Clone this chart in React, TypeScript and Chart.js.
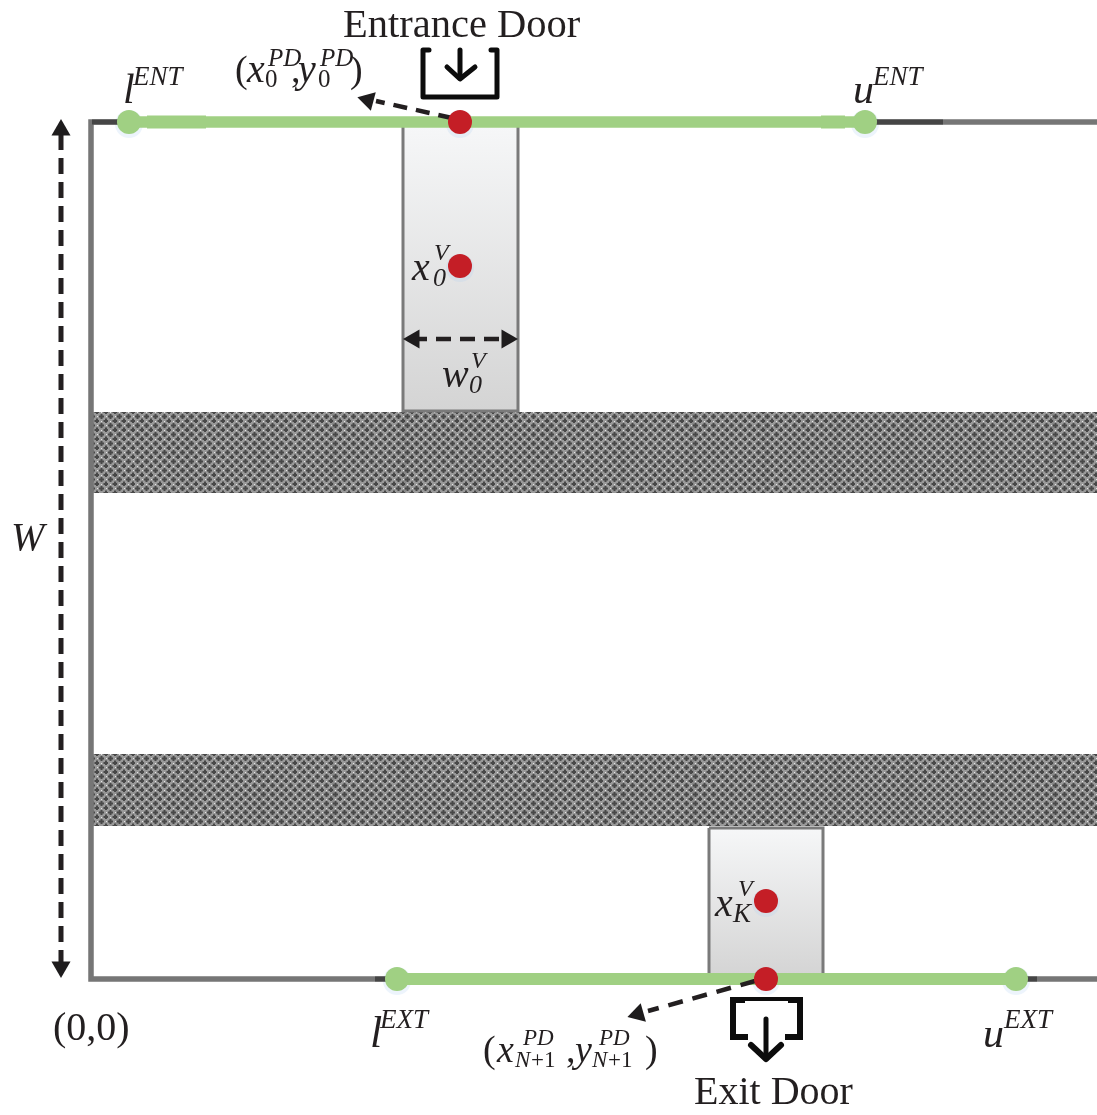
import React, { useEffect, useRef } from "react";
import Chart from "chart.js/auto";

type P = { x: number; y: number };
const pts = (a: number[][]): P[] => a.map(([x, y]) => ({ x, y }));

const WIDTH = 1097;
const HEIGHT = 1115;

// Room frame
const frameOutline = [[1097, 122], [91, 122], [91, 979], [1097, 979]];
const darkTopA = [[92, 122], [129, 122]];
const darkTopB = [[865, 122], [943, 122]];
const darkBottomA = [[375, 979], [397, 979]];
const darkBottomB = [[1016, 979], [1037, 979]];

// Door ranges (green)
const entranceRange = [[129, 122], [865, 122]];
const exitRange = [[397, 979], [1016, 979]];
const entranceThickA = [[147, 122], [206, 122]];
const entranceThickB = [[821, 122], [845, 122]];

// Vehicles
const vehicleTop = [[403, 125], [518, 125], [518, 411], [403, 411], [403, 125]];
const vehicleBottom = [[709, 828], [823, 828], [823, 977], [709, 977], [709, 828]];

// Obstacle bands
const bandUpper = [[93, 412], [1097, 412], [1097, 493], [93, 493], [93, 412]];
const bandLower = [[93, 754], [1097, 754], [1097, 826], [93, 826], [93, 754]];
const seamColumns = [117, 189, 261, 333, 405, 477, 549, 621, 693, 765, 837, 909, 981, 1053];
const seamRows = [428, 793];
const bandSpans = [[412, 493], [754, 826]];

// Points
const greenPoints = [[129, 122], [865, 122], [397, 979], [1016, 979]];
const redPoints = [[460, 122], [460, 266], [766, 901], [766, 979]];
const glowPoints = [[129, 124], [865, 124], [397, 981], [1016, 981], [460, 124], [460, 268], [766, 903], [766, 981]];

// Dashed arrows
const arrowEntrance = [[452, 118], [376, 101]];
const arrowExit = [[755, 981], [648, 1011]];
const arrowWidth = [[412, 339], [510, 339]];
const arrowW = [[61, 134], [61, 964]];
const arrowHeads = [
  { p: [368, 100], rot: 285 },
  { p: [638, 1014], rot: 254 },
  { p: [414, 339], rot: 270 },
  { p: [507, 339], rot: 90 },
  { p: [61, 130], rot: 0 },
  { p: [61, 967], rot: 180 },
];

// Door icons
const entranceBracket = [[429, 50], [423, 50], [423, 97], [497, 97], [497, 50], [491, 50]];
const entranceStem = [[460, 50], [460, 78]];
const entranceChevron = [[447, 67], [460, 79], [475, 67]];
const exitBracketLeft = [[745, 1000], [733, 1000], [733, 1037], [748, 1037]];
const exitBracketRight = [[788, 1000], [800, 1000], [800, 1037], [785, 1037]];
const exitLintel = [[745, 999], [788, 999]];
const exitStem = [[766, 1019], [766, 1058]];
const exitChevron = [[751, 1045], [766, 1059], [781, 1045]];

// Text: [text, x, baseline, size, style]
const labels: [string, number, number, number, string][] = [
  ["Entrance Door", 343, 37, 40.5, ""],
  ["Exit Door", 694, 1104, 40, ""],
  ["(0,0)", 53, 1040, 40, ""],
  ["W", 11, 550, 40, "italic"],
  ["l", 123, 103, 42, "italic"],
  ["ENT", 133, 85, 27, "italic"],
  ["u", 853, 103, 42, "italic"],
  ["ENT", 873, 85, 27, "italic"],
  ["l", 370, 1047, 44, "italic"],
  ["EXT", 380, 1028, 27, "italic"],
  ["u", 983, 1047, 42, "italic"],
  ["EXT", 1004, 1028, 27, "italic"],
  ["(", 235, 82, 38, ""],
  ["x", 247, 82, 40, "italic"],
  ["PD", 268, 66, 25, "italic"],
  ["0", 265, 87, 25, ""],
  [",", 291, 82, 38, ""],
  ["y", 298, 82, 40, "italic"],
  ["PD", 320, 66, 25, "italic"],
  ["0", 318, 87, 25, ""],
  [")", 350, 82, 38, ""],
  ["x", 412, 280, 40, "italic"],
  ["V", 434, 260, 24, "italic"],
  ["0", 433, 286, 26, "italic"],
  ["w", 442, 387, 40, "italic"],
  ["V", 471, 368, 24, "italic"],
  ["0", 469, 393, 26, "italic"],
  ["x", 715, 916, 40, "italic"],
  ["V", 738, 896, 24, "italic"],
  ["K", 733, 922, 27, "italic"],
  ["(", 483, 1062, 38, ""],
  ["x", 497, 1062, 38, "italic"],
  ["PD", 523, 1045, 23, "italic"],
  ["N", 515, 1067, 23, "italic"],
  ["+1", 531, 1067, 23, ""],
  [",", 566, 1062, 38, ""],
  ["y", 575, 1062, 38, "italic"],
  ["PD", 599, 1045, 23, "italic"],
  ["N", 592, 1067, 23, "italic"],
  ["+1", 608, 1067, 23, ""],
  [")", 645, 1062, 38, ""],
];

const TEXT_COLOR = "#231f20";
const GREEN = "#a0d083";
const RED = "#c41e26";
const SEAM = "rgba(50,50,50,0.1)";

const line = (
  data: number[][],
  color: string,
  width: number,
  extra: Record<string, unknown> = {}
) => ({
  data: pts(data),
  showLine: true,
  borderColor: color,
  borderWidth: width,
  pointRadius: 0,
  borderCapStyle: "butt",
  borderJoinStyle: "miter",
  tension: 0,
  ...extra,
});

function hatchPattern(ctx: CanvasRenderingContext2D) {
  const tile = document.createElement("canvas");
  tile.width = 9;
  tile.height = 9;
  const t = tile.getContext("2d")!;
  t.fillStyle = "#999999";
  t.fillRect(0, 0, 9, 9);
  t.fillStyle = "#484848";
  for (const [cx, cy] of [[2, 2], [6.5, 6.5]]) {
    t.fillRect(cx - 2, cy - 0.5, 5, 2);
    t.fillRect(cx - 0.5, cy - 2, 2, 5);
  }
  t.fillStyle = "#e4e4e4";
  t.fillRect(7, 2, 1, 1);
  t.fillRect(2, 7, 1, 1);
  return ctx.createPattern(tile, "repeat")!;
}

const labelPlugin = {
  id: "diagramLabels",
  afterDatasetsDraw(chart: any) {
    const { ctx, scales } = chart;
    ctx.save();
    ctx.fillStyle = TEXT_COLOR;
    ctx.textBaseline = "alphabetic";
    ctx.textAlign = "left";
    for (const [text, x, y, size, style] of labels) {
      ctx.font = `${style} ${size}px "Liberation Serif"`;
      ctx.fillText(text, scales.x.getPixelForValue(x), scales.y.getPixelForValue(y));
    }
    ctx.restore();
  },
};

export default function App() {
  const ref = useRef<HTMLCanvasElement>(null);
  useEffect(() => {
    const canvas = ref.current!;
    const ctx = canvas.getContext("2d")!;
    const pattern = hatchPattern(ctx);
    const grad = (y0: number, y1: number) => {
      const g = ctx.createLinearGradient(0, y0, 0, y1);
      g.addColorStop(0, "#f6f7f8");
      g.addColorStop(1, "#d4d4d4");
      return g;
    };
    const icon = { borderCapStyle: "round", borderJoinStyle: "round" };
    // Earlier datasets are painted on top of later ones.
    const datasets: any[] = [
      {
        data: pts(redPoints),
        pointRadius: 12,
        pointBackgroundColor: RED,
        pointBorderWidth: 0,
      },
      {
        data: pts(greenPoints),
        pointRadius: 12,
        pointBackgroundColor: GREEN,
        pointBorderWidth: 0,
      },
      ...arrowHeads.map((a) => ({
        data: pts([a.p]),
        pointStyle: "triangle",
        pointRadius: 11,
        pointRotation: a.rot,
        pointBackgroundColor: "#1e1c1d",
        pointBorderWidth: 0,
      })),
      line(arrowEntrance, "#231f20", 4.5, { borderDash: [14, 9] }),
      line(arrowExit, "#231f20", 4.5, { borderDash: [15, 10] }),
      line(arrowWidth, "#231f20", 4.5, { borderDash: [15, 9] }),
      line(arrowW, "#231f20", 5, { borderDash: [16, 8] }),
      line(entranceBracket, "#0c0c0c", 5, icon),
      line(entranceStem, "#0c0c0c", 5, icon),
      line(entranceChevron, "#0c0c0c", 5, icon),
      line(exitBracketLeft, "#0c0c0c", 6),
      line(exitBracketRight, "#0c0c0c", 6),
      line(exitLintel, "#0c0c0c", 4),
      line(exitStem, "#0c0c0c", 5, icon),
      line(exitChevron, "#0c0c0c", 6, icon),
      line(entranceThickA, GREEN, 13),
      line(entranceThickB, GREEN, 13),
      line(entranceRange, GREEN, 11.5),
      line(exitRange, GREEN, 12),
      line(darkTopA, "#454545", 5),
      line(darkTopB, "#454545", 5),
      line(darkBottomA, "#454545", 5),
      line(darkBottomB, "#454545", 5),
      line(frameOutline, "#767676", 5.5),
      {
        data: pts(glowPoints),
        pointRadius: 14,
        pointBackgroundColor: "rgba(175,205,240,0.22)",
        pointBorderWidth: 0,
      },
      line(vehicleTop, "#7a7a7a", 3, { fill: "shape", backgroundColor: grad(125, 411) }),
      line(vehicleBottom, "#7a7a7a", 3, { fill: "shape", backgroundColor: grad(828, 977) }),
      ...bandSpans.flatMap(([top, bottom]) =>
        seamColumns.map((x) => line([[x, top], [x, bottom]], SEAM, 1))
      ),
      ...seamRows.map((y) => line([[93, y], [WIDTH, y]], SEAM, 1)),
      line(bandUpper, "rgba(0,0,0,0)", 0, { fill: "shape", backgroundColor: pattern }),
      line(bandLower, "rgba(0,0,0,0)", 0, { fill: "shape", backgroundColor: pattern }),
    ];
    const chart = new Chart(canvas, {
      type: "scatter",
      data: { datasets },
      plugins: [labelPlugin],
      options: {
        animation: false,
        responsive: false,
        devicePixelRatio: 1,
        layout: { padding: 0, autoPadding: false },
        scales: {
          x: { type: "linear", display: false, min: 0, max: WIDTH },
          y: { type: "linear", display: false, min: 0, max: HEIGHT, reverse: true },
        },
        plugins: { legend: { display: false }, tooltip: { enabled: false } },
      },
    } as any);
    return () => chart.destroy();
  }, []);
  return (
    <div style={{ position: "absolute", left: 0, top: 0, width: WIDTH, height: HEIGHT, background: "#fff" }}>
      <canvas ref={ref} width={WIDTH} height={HEIGHT} style={{ display: "block" }} />
    </div>
  );
}
